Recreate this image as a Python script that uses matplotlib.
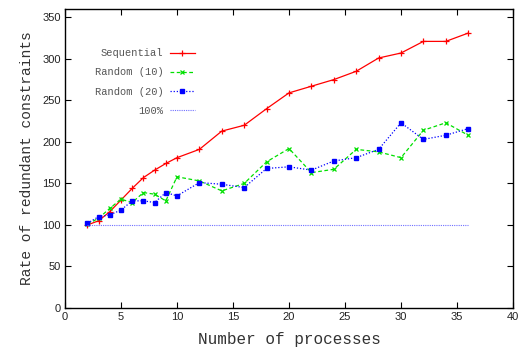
import matplotlib
matplotlib.use("Agg")
import matplotlib.pyplot as plt

x = [2, 3, 4, 5, 6, 7, 8, 9, 10, 12, 14, 16, 18, 20, 22, 24, 26, 28, 30, 32, 34, 36]
sequential = [100, 105, 116, 130, 144, 157, 166, 174, 181, 191, 213, 220, 240, 259,
              267, 275, 285, 301, 307, 321, 321, 331]
random10 = [101, 108, 120, 131, 127, 139, 137, 129, 158, 153, 141, 150, 176, 192,
            163, 167, 191, 188, 181, 214, 223, 208]
random20 = [102, 110, 112, 118, 129, 129, 127, 139, 135, 151, 149, 145, 168, 170,
            166, 177, 181, 191, 223, 203, 208, 216]
hundred_x = [2, 36]
hundred = [100, 100]

xticks = [0, 5, 10, 15, 20, 25, 30, 35, 40]
yticks = [0, 50, 100, 150, 200, 250, 300, 350]

fig = plt.figure(figsize=(5.23, 3.49), dpi=100)
ax = fig.add_axes([65/523, 1-308/349, (513-65)/523, (308-9)/349])

ax.plot(x, sequential, color='#ff0000', lw=0.9, ls='-', marker='+', ms=5, mew=0.9,
        label='Sequential')
ax.plot(x, random10, color='#00e000', lw=0.9, ls=(0, (3, 2)), marker='x', ms=3.5, mew=0.9,
        label='Random (10)')
ax.plot(x, random20, color='#0000ff', lw=0.9, ls=(0, (1, 1.5)), marker='s', ms=3,
        label='Random (20)')
ax.plot(hundred_x, hundred, color='#7070ff', lw=0.8, ls=(0, (1, 1)), label='100%')

ax.set_xlim(0, 40)
ax.set_ylim(0, 360)
ax.set_xticks(xticks)
ax.set_yticks(yticks)
ax.tick_params(axis='both', direction='in', length=4, width=0.8, top=True, right=True,
               labelsize=8, pad=3, labelcolor='#222222')
for lab in ax.get_xticklabels() + ax.get_yticklabels():
    lab.set_family('Liberation Sans')
for s in ax.spines.values():
    s.set_linewidth(1.0)

ax.set_xlabel('Number of processes', family='Liberation Mono', fontsize=11.5, labelpad=7,
              color='#333333')
ax.set_ylabel('Rate of redundant constraints', family='Liberation Mono', fontsize=10.5,
              labelpad=6, color='#333333')

leg = ax.legend(loc='upper left', bbox_to_anchor=(0.045, 0.90), frameon=False,
                markerfirst=False, prop={'family': 'Liberation Mono', 'size': 7.5},
                handlelength=2.4, labelspacing=0.88, handletextpad=0.6)
for t in leg.get_texts():
    t.set_color('#555555')
    t.set_ha('right')

fig.savefig('out.png', dpi=100)
